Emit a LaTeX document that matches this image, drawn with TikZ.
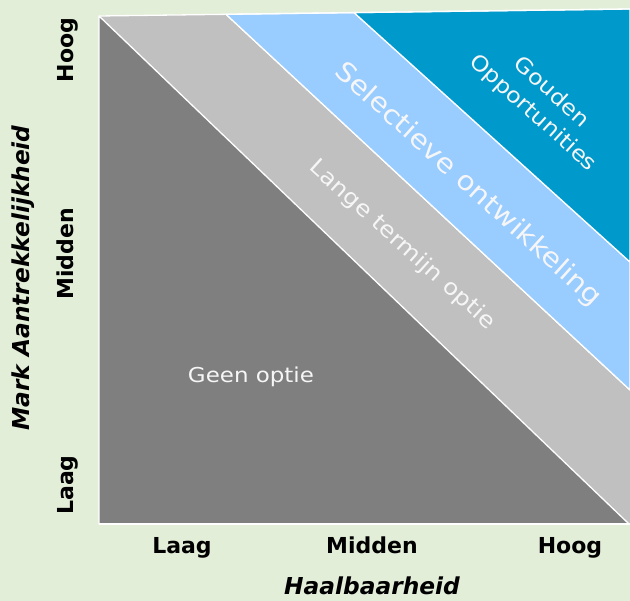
\documentclass[tikz,border=0pt]{standalone}
\usepackage{fontspec}
\setmainfont{DejaVu Sans}
\newfontfamily\bandfont[FakeStretch=1.12]{DejaVu Sans}
\definecolor{bgcol}{HTML}{E3EED8}
\definecolor{darkgrey}{HTML}{7F7F7F}
\definecolor{lightgrey}{HTML}{C0C0C0}
\definecolor{lightblue}{HTML}{99CCFF}
\definecolor{darkblue}{HTML}{0099CC}
\definecolor{bandtext}{HTML}{F6F6F6}
\begin{document}
\begin{tikzpicture}[x=1pt,y=-1pt,
  region/.style={draw=white, line width=1.3pt, line join=round},
  axislabel/.style={font=\bfseries\fontsize{22}{26}\selectfont, text=black, inner sep=0pt, anchor=base},
  axistitle/.style={font=\bfseries\itshape\fontsize{23.3}{27}\selectfont, text=black, inner sep=0pt, anchor=base},
  bandlabel/.style={text=bandtext, inner sep=0pt, rotate=-42, align=center}
]
\useasboundingbox[fill=bgcol] (0,0) rectangle (630,601);
% regions
\fill[lightgrey] (99,16) -- (226,14.3) -- (630,390) -- (630,524) -- (99,524) -- cycle;
\draw[region, fill=lightgrey] (226,14.3) -- (630,390);
\draw[region, fill=lightblue] (226,14.3) -- (354,12.6) -- (630,262) -- (630,390) -- cycle;
\draw[region, fill=darkblue] (354,12.6) -- (630,9) -- (630,262) -- cycle;
\draw[region, fill=darkgrey] (99,16) -- (99,524) -- (629,524) -- cycle;
\draw[region] (99,16) -- (630,9);
\draw[region] (99,524) -- (630,524);
% band labels
\node[bandlabel, font=\bandfont\fontsize{21.3}{28}\selectfont] (gouden) at (542,103) {Gouden\\Opportunities};
\node[bandlabel, font=\bandfont\fontsize{26.4}{30}\selectfont] (selectief) at (468,185) {Selectieve ontwikkeling};
\node[bandlabel, font=\bandfont\fontsize{22}{25}\selectfont] (lange) at (402,245) {Lange termijn optie};
\node[text=bandtext, inner sep=0pt, font=\bandfont\fontsize{20.5}{23}\selectfont] (geen) at (251,377) {Geen optie};
% axis labels
\node[axislabel] (xlaag) at (182,554) {Laag};
\node[axislabel] (xmidden) at (372,554) {Midden};
\node[axislabel] (xhoog) at (570,554) {Hoog};
\node[axistitle] (xtitle) at (372,595) {Haalbaarheid};
\node[axislabel, rotate=90] (yhoog) at (73,50) {Hoog};
\node[axislabel, rotate=90] (ymidden) at (73,254) {Midden};
\node[axislabel, rotate=90] (ylaag) at (73,485) {Laag};
\node[axistitle, rotate=90] (ytitle) at (29,278) {Mark Aantrekkelijkheid};
\end{tikzpicture}
\end{document}
